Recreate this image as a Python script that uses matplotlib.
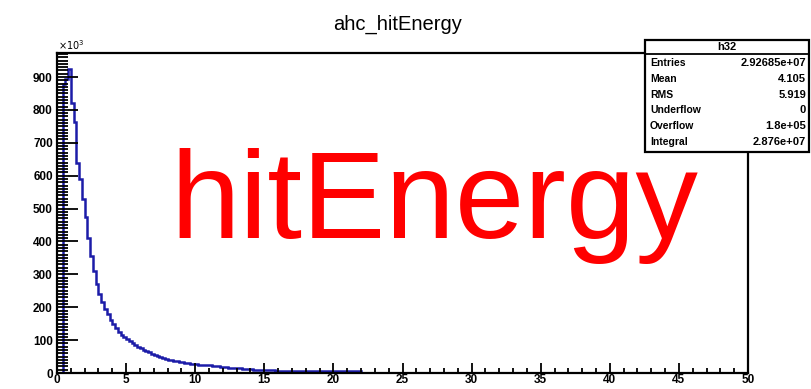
import matplotlib.pyplot as plt
from matplotlib.patches import Rectangle
import numpy as np

############################# data ################################

title = "ahc_hitEnergy"
overlay_text = "hitEnergy"

bin_width = 0.2
first_bin = 0.4
# bin contents (x 10^3), bins of 0.2 starting at 0.4
counts = [880, 895, 925, 820, 763, 640, 590, 530, 475, 410,
          355, 310, 270, 240, 215, 195, 178, 162, 148, 136,
          126, 117, 109, 102, 96, 90, 85, 80, 76, 71,
          67, 63, 59, 55, 51, 48, 45, 43, 41, 39,
          37, 35, 34, 32, 31, 29, 28, 27, 26, 25,
          24, 24, 24, 23, 22, 21, 20, 19, 18, 17,
          16, 15, 15, 14, 14, 13, 12, 12, 11, 10,
          10, 9, 9, 8, 8, 8, 8, 7, 7, 7,
          7, 7, 7, 7, 7, 7, 6, 6, 6, 6,
          6, 6, 6, 6, 6, 6, 6, 6, 6, 6,
          6, 6, 6, 6, 6, 6, 6, 6]

stats_name = "h32"
stats_labels = ["Entries", "Mean", "RMS", "Underflow", "Overflow", "Integral"]
stats_values = ["2.92685e+07", "4.105", "5.919", "0", "1.8e+05", "2.876e+07"]

x_ticks = [0, 5, 10, 15, 20, 25, 30, 35, 40, 45, 50]
y_ticks = [0, 100, 200, 300, 400, 500, 600, 700, 800, 900]

###################
W, H = 811, 389
font = "Liberation Sans"
line_col = "#1c1ca8"

fig = plt.figure(figsize=(W / 100, H / 100), dpi=100)
ax = fig.add_axes([57 / W, (H - 373) / H, (748 - 57) / W, (373 - 53) / H])

edges = first_bin + bin_width * np.arange(len(counts) + 1)
ax.stairs(counts, edges, color=line_col, linewidth=1.8)

ax.set_xlim(0, 50)
ax.set_ylim(0, 973)
ax.set_xticks(x_ticks)
ax.set_yticks(y_ticks)
ax.set_xticks(np.arange(0, 51, 1), minor=True)
ax.set_yticks(np.arange(0, 971, 10), minor=True)
ax.set_xticklabels([str(t) for t in x_ticks], fontfamily=font, fontweight="bold", fontsize=8.5)
ax.set_yticklabels([str(t) for t in y_ticks], fontfamily=font, fontweight="bold", fontsize=8.5)
ax.tick_params(axis="both", which="both", direction="in", width=1.3, color="black")
ax.yaxis.set_tick_params(which="major", length=15, pad=3)
ax.yaxis.set_tick_params(which="minor", length=8)
ax.xaxis.set_tick_params(which="major", length=7, pad=1)
ax.xaxis.set_tick_params(which="minor", length=3.5)
for s in ax.spines.values():
    s.set_linewidth(1.6)

fig.text(58 / W, (H - 45) / H, r"$\times10^{3}$", fontsize=7, ha="left", va="center",
         fontfamily=font, fontweight="bold")

fig.text(398 / W, (H - 24) / H, title, fontsize=14.5, ha="center", va="center",
         fontfamily=font)

fig.text(170 / W, (H - 238) / H, overlay_text, fontsize=90, color="#ff0000",
         ha="left", va="baseline", fontfamily=font)

# stats box
bx0, bx1, by0, by1 = 645, 809, 40, 152
fig.add_artist(Rectangle((bx0 / W, (H - by1) / H), (bx1 - bx0) / W, (by1 - by0) / H,
                         transform=fig.transFigure, facecolor="white",
                         edgecolor="black", linewidth=1.6, zorder=5))
fig.add_artist(plt.Line2D([bx0 / W, bx1 / W], [(H - 54) / H, (H - 54) / H],
                          transform=fig.transFigure, color="black", linewidth=1.3, zorder=6))
fig.text((bx0 + bx1) / 2 / W, (H - 47) / H, stats_name, fontsize=8, ha="center",
         va="center", fontfamily=font, fontweight="bold", zorder=7)
for i, (lab, val) in enumerate(zip(stats_labels, stats_values)):
    yy = (H - (63 + 15.8 * i)) / H
    fig.text((bx0 + 5) / W, yy, lab, fontsize=7.5, ha="left", va="center",
             fontfamily=font, fontweight="bold", zorder=7)
    fig.text((bx1 - 3) / W, yy, val, fontsize=8, ha="right", va="center",
             fontfamily=font, fontweight="bold", zorder=7)

plt.savefig("out.png", dpi=100)
